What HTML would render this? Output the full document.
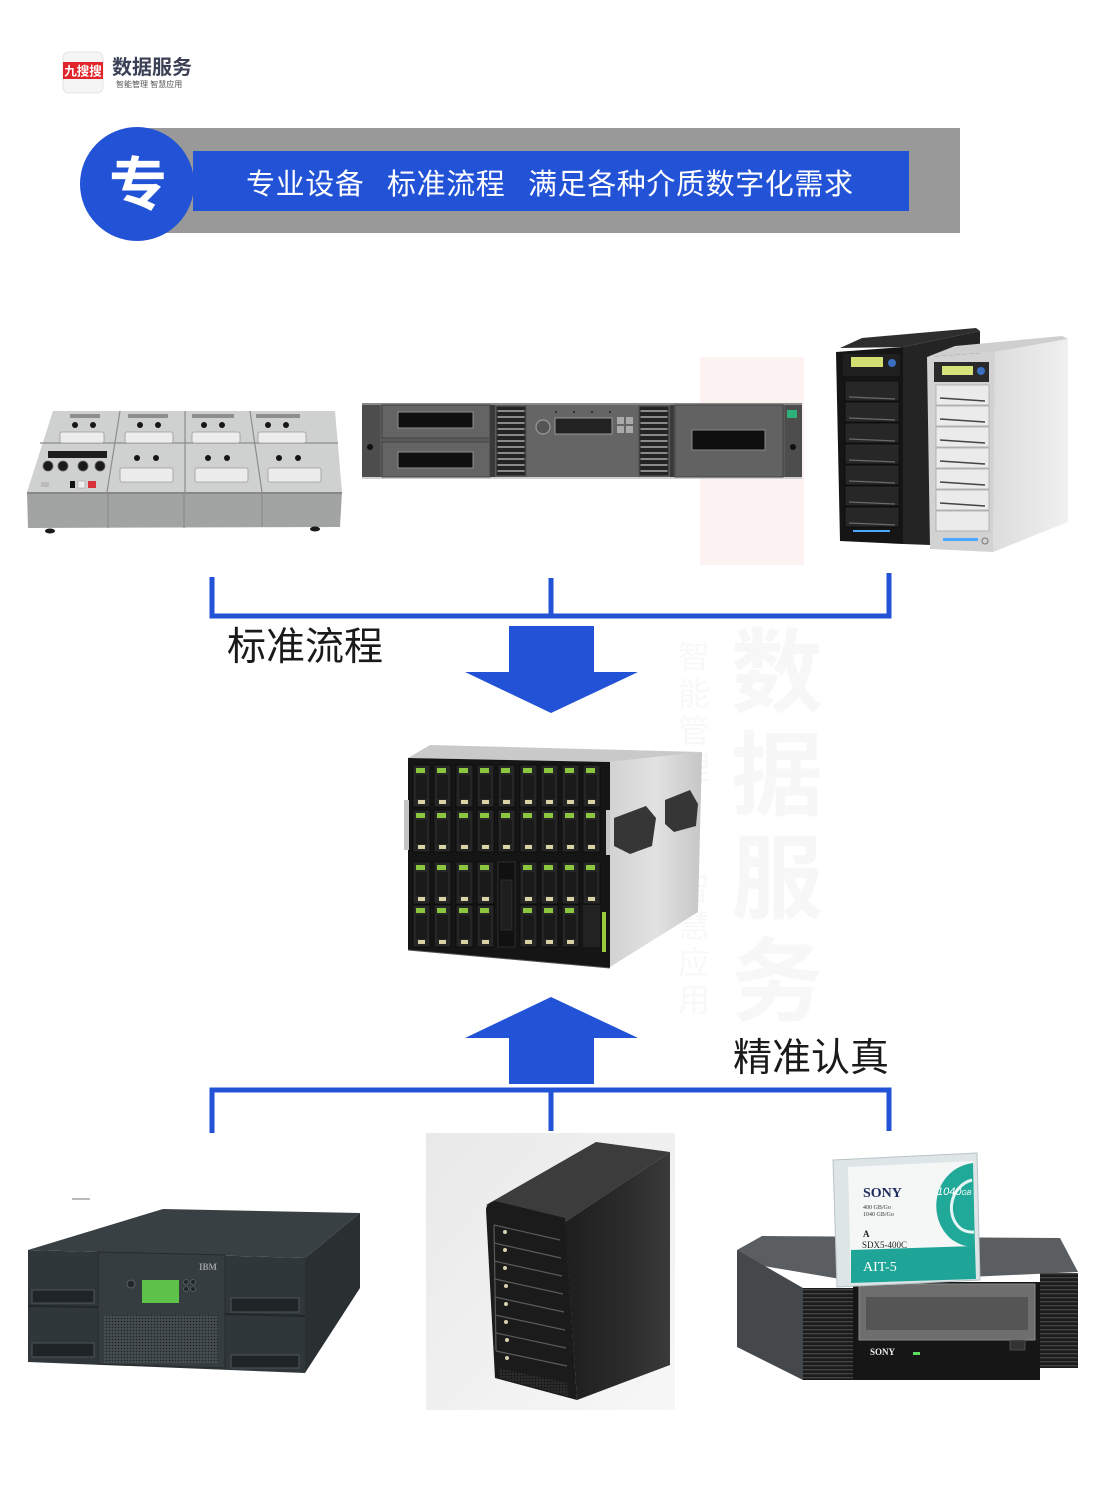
<!DOCTYPE html>
<html><head><meta charset="utf-8">
<style>
html,body{margin:0;padding:0;background:#fff;}
body{width:1100px;height:1500px;overflow:hidden;}
svg{display:block;}
text{font-family:"Liberation Sans","Noto Sans CJK SC",sans-serif;}
.cjk{font-family:"Liberation Sans","Noto Sans CJK SC",sans-serif;}
.serif{font-family:"Liberation Serif",serif;}
</style></head><body>
<svg width="1100" height="1500" viewBox="0 0 1100 1500" xmlns="http://www.w3.org/2000/svg">
<defs>
  <pattern id="mesh" width="3" height="3" patternUnits="userSpaceOnUse"><rect width="3" height="3" fill="#454c4f"/><circle cx="1.5" cy="1.5" r="0.8" fill="#1c2123"/></pattern>
  <pattern id="mesh2" width="3" height="3" patternUnits="userSpaceOnUse"><rect width="3" height="3" fill="#2a2a2a"/><circle cx="1.5" cy="1.5" r="0.7" fill="#0e0e0e"/></pattern>
  <pattern id="vstripe" width="28" height="6" patternUnits="userSpaceOnUse"><rect width="28" height="6" fill="#232323"/><rect y="2" width="28" height="2" fill="#8a8a8a"/></pattern>
  <pattern id="hvent" width="4" height="4" patternUnits="userSpaceOnUse"><rect width="4" height="4" fill="#1b1b1b"/><rect x="0" y="1" width="4" height="1.3" fill="#454545"/></pattern>
  <linearGradient id="bladeSide" x1="0" y1="0" x2="1" y2="0"><stop offset="0" stop-color="#d2d2d2"/><stop offset="0.5" stop-color="#e2e2e2"/><stop offset="1" stop-color="#c6c6c6"/></linearGradient>
  <linearGradient id="silverSide" x1="0" y1="0" x2="1" y2="0"><stop offset="0" stop-color="#dcdcdc"/><stop offset="1" stop-color="#f0f0f0"/></linearGradient>
  <linearGradient id="towerBg" x1="0" y1="0" x2="1" y2="1"><stop offset="0" stop-color="#e9e9e9"/><stop offset="1" stop-color="#f7f7f7"/></linearGradient>
  <linearGradient id="towerSide" x1="0" y1="0" x2="1" y2="0"><stop offset="0" stop-color="#1e1e1e"/><stop offset="0.6" stop-color="#2c2c2c"/><stop offset="1" stop-color="#3a3a3a"/></linearGradient>
  <g id="blade">
    <rect x="0" y="0" width="17" height="42" fill="#262626" stroke="#0a0a0a" stroke-width="0.8"/>
    <rect x="3" y="10" width="11" height="24" fill="#1a1a1a"/>
    <rect x="3" y="3" width="9" height="5" fill="#8cc63e"/>
    <rect x="5" y="35" width="7" height="4" fill="#d8d2a4"/>
  </g>
</defs>

<!-- watermark (faint) -->
<rect x="700" y="357" width="104" height="208" fill="#fdf2f2"/>
<g fill="#f7f7f7" font-weight="bold" font-size="92" class="cjk" text-anchor="middle">
  <text x="777" y="705">数</text>
  <text x="777" y="808">据</text>
  <text x="777" y="911">服</text>
  <text x="777" y="1014">务</text>
</g>
<g fill="#f8f8f8" font-size="32" class="cjk" text-anchor="middle">
  <text x="694" y="668">智</text><text x="694" y="705">能</text><text x="694" y="742">管</text><text x="694" y="779">理</text>
  <text x="694" y="900">智</text><text x="694" y="937">慧</text><text x="694" y="974">应</text><text x="694" y="1011">用</text>
</g>

<!-- logo -->
<rect x="63" y="52" width="40" height="41" rx="6" fill="#f5f5f5" stroke="#e4e4e4"/>
<rect x="63" y="62" width="40" height="17" fill="#e0262a"/>
<text x="83" y="75.5" font-size="12.5" font-weight="bold" fill="#fff" text-anchor="middle" class="cjk">九搜搜</text>
<text x="112" y="74" font-size="20" font-weight="bold" fill="#3b4056" class="cjk">数据服务</text>
<text x="116" y="87" font-size="8" fill="#555" class="cjk">智能管理  智慧应用</text>

<!-- header banner -->
<rect x="130" y="128" width="830" height="105" fill="#999999"/>
<rect x="193" y="151" width="716" height="60" fill="#2252d6"/>
<ellipse cx="137" cy="184" rx="57" ry="57" fill="#2252d6"/>
<text x="138" y="205" font-size="58" font-weight="bold" fill="#fff" text-anchor="middle" class="cjk">专</text>
<g fill="#fff" font-size="29" class="cjk" letter-spacing="0.6">
  <text x="246" y="194">专业设备</text>
  <text x="387" y="194">标准流程</text>
  <text x="528" y="194">满足各种介质数字化需求</text>
</g>

<!-- ===== top-left cassette duplicator ===== -->
<polygon points="53,411 335,411 342,492 27,492" fill="#cfd0d0"/>
<polygon points="27,492 342,492 340,527 28,528" fill="#a2a3a3"/>
<line x1="27" y1="493" x2="342" y2="493" stroke="#7f7f7f" stroke-width="1.5"/>
<g stroke="#8c8c8c" stroke-width="1.2">
  <line x1="120" y1="411" x2="107" y2="492"/>
  <line x1="185" y1="411" x2="185" y2="492"/>
  <line x1="250" y1="411" x2="262" y2="492"/>
  <line x1="40" y1="443" x2="338" y2="443"/>
  <line x1="108" y1="494" x2="108" y2="528"/>
  <line x1="184" y1="494" x2="184" y2="528"/>
  <line x1="262" y1="494" x2="262" y2="527"/>
</g>
<g fill="#8e8e8e">
  <rect x="70" y="414" width="30" height="4"/>
  <rect x="128" y="414" width="40" height="4"/>
  <rect x="192" y="414" width="42" height="4"/>
  <rect x="256" y="414" width="44" height="4"/>
</g>
<g fill="#ececec" stroke="#9a9a9a" stroke-width="0.8">
  <rect x="60" y="432" width="44" height="11" rx="2"/>
  <rect x="125" y="432" width="48" height="11" rx="2"/>
  <rect x="192" y="432" width="48" height="11" rx="2"/>
  <rect x="258" y="432" width="48" height="11" rx="2"/>
  <rect x="120" y="468" width="53" height="14" rx="2"/>
  <rect x="195" y="468" width="53" height="14" rx="2"/>
  <rect x="268" y="468" width="53" height="14" rx="2"/>
</g>
<g fill="#151515">
  <circle cx="75" cy="425" r="3"/><circle cx="93" cy="425" r="3"/>
  <circle cx="140" cy="425" r="3"/><circle cx="158" cy="425" r="3"/>
  <circle cx="204" cy="425" r="3"/><circle cx="222" cy="425" r="3"/>
  <circle cx="268" cy="425" r="3"/><circle cx="286" cy="425" r="3"/>
  <circle cx="137" cy="458" r="3"/><circle cx="156" cy="458" r="3"/>
  <circle cx="208" cy="458" r="3"/><circle cx="227" cy="458" r="3"/>
  <circle cx="279" cy="458" r="3"/><circle cx="298" cy="458" r="3"/>
</g>
<rect x="48" y="451" width="59" height="7" fill="#1e1e1e"/>
<g fill="#1a1a1a" stroke="#666" stroke-width="0.8">
  <circle cx="48" cy="466" r="5"/><circle cx="63" cy="466" r="5"/><circle cx="83" cy="466" r="5"/><circle cx="100" cy="466" r="5"/>
</g>
<rect x="41" y="482" width="8" height="5" fill="#bbb"/>
<rect x="70" y="481" width="5" height="7" fill="#111"/>
<rect x="78" y="481" width="7" height="7" fill="#eee" stroke="#999" stroke-width="0.5"/>
<rect x="88" y="481" width="8" height="7" fill="#d8333a"/>
<ellipse cx="50" cy="531" rx="5" ry="2.5" fill="#1a1a1a"/>
<ellipse cx="315" cy="529" rx="5" ry="2.5" fill="#1a1a1a"/>

<!-- ===== top-middle tape library ===== -->
<rect x="362" y="403" width="440" height="74" fill="#5a5a5a"/>
<rect x="362" y="403" width="440" height="2" fill="#8a8a8a"/>
<rect x="362" y="477" width="440" height="2" fill="#d0d0d0"/>
<rect x="362" y="405" width="18" height="72" fill="#4d4d4d"/>
<circle cx="370" cy="447" r="3" fill="#111"/>
<rect x="382" y="405" width="108" height="33" fill="#646464" stroke="#444" stroke-width="1"/>
<rect x="382" y="442" width="108" height="35" fill="#646464" stroke="#444" stroke-width="1"/>
<rect x="398" y="412" width="75" height="16" fill="#0f0f0f" stroke="#909090" stroke-width="1"/>
<rect x="398" y="452" width="75" height="16" fill="#0f0f0f" stroke="#909090" stroke-width="1"/>
<rect x="490" y="405" width="5" height="72" fill="#3a3a3a"/>
<rect x="497" y="407" width="28" height="68" fill="url(#vstripe)" stroke="#2a2a2a"/>
<rect x="527" y="405" width="111" height="72" fill="#656565"/>
<circle cx="543" cy="427" r="7" fill="#555" stroke="#999" stroke-width="1.2"/>
<rect x="555" y="418" width="57" height="16" fill="#222" stroke="#9a9a9a" stroke-width="1"/>
<g fill="#aaa"><rect x="617" y="417" width="7" height="7"/><rect x="626" y="417" width="7" height="7"/><rect x="617" y="426" width="7" height="7"/><rect x="626" y="426" width="7" height="7"/></g>
<g fill="#222"><circle cx="556" cy="412" r="1"/><circle cx="574" cy="412" r="1"/><circle cx="592" cy="412" r="1"/><circle cx="610" cy="412" r="1"/></g>
<rect x="640" y="407" width="28" height="68" fill="url(#vstripe)" stroke="#2a2a2a"/>
<rect x="670" y="405" width="4" height="72" fill="#3a3a3a"/>
<rect x="675" y="405" width="108" height="72" fill="#626262" stroke="#444" stroke-width="1"/>
<rect x="692" y="430" width="73" height="20" fill="#0f0f0f" stroke="#8a8a8a" stroke-width="1"/>
<rect x="785" y="405" width="17" height="72" fill="#4d4d4d"/>
<rect x="787" y="410" width="10" height="8" fill="#2fb07a"/>
<circle cx="793" cy="447" r="3" fill="#111"/>

<!-- ===== top-right duplicator towers ===== -->
<polygon points="840,348 862,338 976,328 980,331 903,347" fill="#2e2e2e"/>
<polygon points="903,347 980,331 980,362 930,356 930,545 903,544" fill="#242424"/>
<polygon points="836,352 903,347 903,544 840,541" fill="#151515"/>
<rect x="843" y="354" width="57" height="22" fill="#1f1f1f"/>
<rect x="851" y="357" width="32" height="10" fill="#d2de72"/>
<circle cx="892" cy="363" r="4" fill="#3a6fc0"/>
<g fill="#272727" stroke="#0c0c0c" stroke-width="0.8">
  <rect x="845" y="381" width="54" height="20"/><rect x="845" y="402" width="54" height="20"/>
  <rect x="845" y="423" width="54" height="20"/><rect x="845" y="444" width="54" height="20"/>
  <rect x="845" y="465" width="54" height="20"/><rect x="845" y="486" width="54" height="20"/>
  <rect x="845" y="507" width="54" height="20"/>
</g>
<g stroke="#6a6a6a" stroke-width="1.2">
  <line x1="849" y1="397" x2="895" y2="399"/><line x1="849" y1="418" x2="895" y2="420"/>
  <line x1="849" y1="439" x2="895" y2="441"/><line x1="849" y1="460" x2="895" y2="462"/>
  <line x1="849" y1="481" x2="895" y2="483"/><line x1="849" y1="502" x2="895" y2="504"/>
  <line x1="849" y1="523" x2="895" y2="525"/>
</g>
<rect x="853" y="530" width="37" height="2" fill="#4aa8ff"/>
<polygon points="927,357 955,346 1062,336 1068,339 995,352" fill="#cfcfcf"/>
<polygon points="995,352 1068,339 1068,522 993,552" fill="url(#silverSide)"/>
<polygon points="927,357 995,352 993,552 930,549" fill="#d2d2d2"/>
<rect x="934" y="362" width="55" height="20" fill="#2a2a2a"/>
<rect x="942" y="366" width="31" height="9" fill="#d6e27a"/>
<circle cx="981" cy="371" r="4" fill="#3a6fc0"/>
<g fill="#ebebeb" stroke="#a9a9a9" stroke-width="0.8">
  <rect x="936" y="385" width="53" height="20"/><rect x="936" y="406" width="53" height="20"/>
  <rect x="936" y="427" width="53" height="20"/><rect x="936" y="448" width="53" height="20"/>
  <rect x="936" y="469" width="53" height="20"/><rect x="936" y="490" width="53" height="20"/>
  <rect x="936" y="511" width="53" height="20"/>
</g>
<g stroke="#444" stroke-width="1.5">
  <line x1="940" y1="398" x2="985" y2="401"/><line x1="940" y1="419" x2="985" y2="422"/>
  <line x1="940" y1="440" x2="985" y2="443"/><line x1="940" y1="461" x2="985" y2="464"/>
  <line x1="940" y1="482" x2="985" y2="485"/><line x1="940" y1="503" x2="985" y2="506"/>
</g>
<rect x="943" y="538" width="35" height="3" fill="#4aa8ff"/>
<circle cx="985" cy="541" r="3" fill="none" stroke="#777"/>

<!-- ===== top bracket + arrow ===== -->
<path d="M212 577 V616 H889 V573 M551 578 V616" fill="none" stroke="#2252d6" stroke-width="5"/>
<polygon points="509,626 594,626 594,672 638,672 551,713 465,672 509,672" fill="#2252d6"/>
<text x="227" y="660" font-size="39" fill="#1a1a1a" class="cjk">标准流程</text>

<!-- ===== center blade server ===== -->
<polygon points="408,758 430,745 702,752 610,762" fill="#c9c9c9"/>
<polygon points="610,762 702,752 698,912 610,967" fill="url(#bladeSide)"/>
<polygon points="614,818 646,806 656,818 652,846 630,854 614,846" fill="#363636"/>
<polygon points="665,800 690,790 698,804 696,826 674,832 665,824" fill="#363636"/>
<polygon points="408,758 610,762 610,968 408,950" fill="#151515"/>
<rect x="404" y="800" width="5" height="50" fill="#c4c4c4"/>
<rect x="606" y="810" width="4" height="45" fill="#c4c4c4"/>
<g>
  <use href="#blade" x="413" y="765"/><use href="#blade" x="434" y="765"/><use href="#blade" x="456" y="765"/>
  <use href="#blade" x="477" y="765"/><use href="#blade" x="498" y="765"/><use href="#blade" x="520" y="765"/>
  <use href="#blade" x="541" y="765"/><use href="#blade" x="562" y="765"/><use href="#blade" x="583" y="765"/>
  <use href="#blade" x="413" y="810"/><use href="#blade" x="434" y="810"/><use href="#blade" x="456" y="810"/>
  <use href="#blade" x="477" y="810"/><use href="#blade" x="498" y="810"/><use href="#blade" x="520" y="810"/>
  <use href="#blade" x="541" y="810"/><use href="#blade" x="562" y="810"/><use href="#blade" x="583" y="810"/>
  <use href="#blade" x="413" y="862"/><use href="#blade" x="434" y="862"/><use href="#blade" x="456" y="862"/>
  <use href="#blade" x="477" y="862"/><use href="#blade" x="520" y="862"/>
  <use href="#blade" x="541" y="862"/><use href="#blade" x="562" y="862"/><use href="#blade" x="583" y="862"/>
  <use href="#blade" x="413" y="905"/><use href="#blade" x="434" y="905"/><use href="#blade" x="456" y="905"/>
  <use href="#blade" x="477" y="905"/><use href="#blade" x="520" y="905"/>
  <use href="#blade" x="541" y="905"/><use href="#blade" x="562" y="905"/>
</g>
<rect x="498" y="862" width="17" height="85" fill="#111" stroke="#333" stroke-width="0.8"/>
<rect x="501" y="880" width="11" height="50" fill="#1e1e1e" stroke="#3a3a3a" stroke-width="0.6"/>
<rect x="583" y="905" width="17" height="42" fill="#222"/>
<rect x="602" y="912" width="4" height="40" fill="#9ccc3c"/>
<line x1="408" y1="950" x2="610" y2="968" stroke="#555" stroke-width="1"/>

<!-- ===== bottom arrow + bracket ===== -->
<polygon points="551,997 638,1038 594,1038 594,1084 509,1084 509,1038 465,1038" fill="#2252d6"/>
<path d="M212 1133 V1090 H889 V1131 M551 1090 V1131" fill="none" stroke="#2252d6" stroke-width="5"/>
<line x1="212" y1="1088.5" x2="889" y2="1088.5" stroke="#2252d6" stroke-width="2"/>
<text x="733" y="1071" font-size="39" fill="#1a1a1a" class="cjk">精准认真</text>

<!-- ===== bottom-left IBM library ===== -->
<rect x="72" y="1198" width="18" height="2" fill="#bbb"/>
<polygon points="28,1250 163,1209 360,1213 305,1258" fill="#394043"/>
<polygon points="305,1258 360,1213 360,1288 305,1373" fill="#2a3032"/>
<polygon points="28,1250 305,1258 305,1373 28,1362" fill="#30373a"/>
<polygon points="98,1252 225,1255 225,1368 98,1364" fill="#363d40" stroke="#262b2d" stroke-width="1"/>
<line x1="28" y1="1306" x2="98" y2="1307" stroke="#22282a" stroke-width="2"/>
<line x1="225" y1="1314" x2="305" y2="1316" stroke="#22282a" stroke-width="2"/>
<g fill="#1f2426" stroke="#4c5458" stroke-width="1">
  <rect x="32" y="1290" width="62" height="13"/>
  <rect x="32" y="1343" width="62" height="14"/>
  <rect x="231" y="1298" width="68" height="14"/>
  <rect x="231" y="1355" width="68" height="13"/>
</g>
<rect x="142" y="1280" width="37" height="23" fill="#5ec24a"/>
<circle cx="131" cy="1284" r="4" fill="#22282a" stroke="#5a6266"/>
<g fill="#22282a" stroke="#5a6266" stroke-width="0.8">
  <circle cx="186" cy="1282" r="2.5"/><circle cx="193" cy="1282" r="2.5"/>
  <circle cx="186" cy="1289" r="2.5"/><circle cx="193" cy="1289" r="2.5"/>
</g>
<rect x="104" y="1315" width="114" height="48" fill="url(#mesh)"/>
<text x="199" y="1270" font-size="9" font-weight="bold" fill="#9aa0a3" class="serif">IBM</text>

<!-- ===== bottom-middle tower ===== -->
<rect x="426" y="1133" width="249" height="277" fill="url(#towerBg)"/>
<polygon points="486,1205 596,1142 670,1152 565,1222" fill="#3c3c3c"/>
<polygon points="565,1222 670,1152 670,1365 577,1400" fill="url(#towerSide)"/>
<path d="M486,1210 Q486,1203 495,1201 L565,1218 L577,1400 L495,1378 Z" fill="#1b1b1b"/>
<g stroke="#5a5a5a" stroke-width="1.2">
  <line x1="494" y1="1225" x2="560" y2="1240"/>
  <line x1="494" y1="1243" x2="561" y2="1258"/>
  <line x1="494" y1="1261" x2="562" y2="1276"/>
  <line x1="495" y1="1279" x2="563" y2="1294"/>
  <line x1="495" y1="1297" x2="564" y2="1312"/>
  <line x1="495" y1="1315" x2="565" y2="1330"/>
  <line x1="496" y1="1333" x2="566" y2="1348"/>
  <line x1="496" y1="1351" x2="567" y2="1366"/>
  <line x1="494" y1="1225" x2="496" y2="1351"/>
</g>
<g fill="#d8d2b0">
  <circle cx="505" cy="1232" r="2"/><circle cx="505" cy="1250" r="2"/><circle cx="505" cy="1268" r="2"/>
  <circle cx="506" cy="1286" r="2"/><circle cx="506" cy="1304" r="2"/><circle cx="506" cy="1322" r="2"/>
  <circle cx="507" cy="1340" r="2"/><circle cx="507" cy="1358" r="2"/>
</g>
<polygon points="498,1368 567,1383 568,1396 500,1378" fill="url(#mesh2)"/>

<!-- ===== bottom-right Sony drive + cassette ===== -->
<polygon points="737,1250 762,1236 1060,1238 1078,1272 858,1282 740,1262" fill="#5b5e61"/>
<polygon points="737,1250 803,1288 803,1380 737,1347" fill="#44484b"/>
<rect x="803" y="1288" width="50" height="92" fill="url(#hvent)"/>
<rect x="853" y="1282" width="187" height="98" fill="#161616"/>
<rect x="859" y="1284" width="176" height="56" fill="#6e6e6e" stroke="#8a8a8a" stroke-width="1"/>
<rect x="866" y="1297" width="162" height="33" fill="#555"/>
<rect x="1040" y="1273" width="38" height="95" fill="url(#hvent)"/>
<text x="870" y="1355" font-size="9" font-weight="bold" fill="#f0f0f0" class="serif">SONY</text>
<rect x="913" y="1352" width="7" height="3" fill="#5ddd5d"/>
<rect x="1010" y="1340" width="15" height="10" fill="#333" stroke="#666" stroke-width="0.6"/>
<polygon points="833,1160 977,1153 980,1280 837,1287" fill="#dde5e7" stroke="#b9c3c6" stroke-width="1"/>
<polygon points="848,1167 973,1161 976,1279 851,1283" fill="#f5f7f7"/>
<polygon points="851,1250 975,1246 976,1279 851,1283" fill="#1fa597"/>
<path d="M973,1163 C935,1168 925,1215 950,1238 C962,1248 975,1247 975,1247 Z" fill="#20a898"/>
<path d="M972,1180 C950,1186 945,1215 960,1228 C966,1233 974,1232 974,1232" fill="none" stroke="#e6f5f3" stroke-width="3"/>
<text x="863" y="1197" font-size="14" font-weight="bold" fill="#1d2a5c" class="serif">SONY</text>
<text x="937" y="1195" font-size="11" font-style="italic" fill="#fff">1040<tspan font-size="7">GB</tspan></text>
<text x="863" y="1209" font-size="6" fill="#333" class="serif">400 GB/Go</text>
<text x="863" y="1216" font-size="6" fill="#333" class="serif">1040 GB/Go</text>
<text x="863" y="1237" font-size="9" font-weight="bold" fill="#222" class="serif">A</text>
<text x="862" y="1248" font-size="9" fill="#222" class="serif">SDX5-400C</text>
<text x="863" y="1271" font-size="14" fill="#fff" class="serif">AIT-5</text>
</svg>
</body></html>
